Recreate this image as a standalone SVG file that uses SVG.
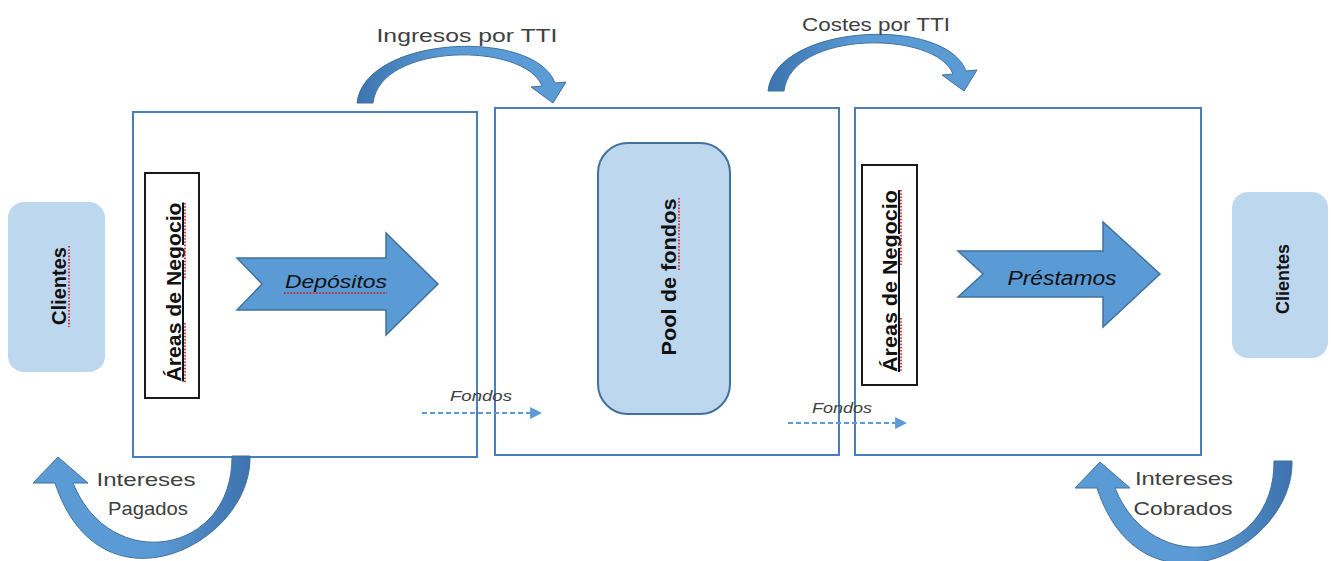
<svg xmlns="http://www.w3.org/2000/svg" width="1331" height="561" viewBox="0 0 1331 561">
  <defs>
    <style>
      .frame{fill:#fff;stroke:#4a7ebb;stroke-width:2}
      .client{fill:#bdd7ee}
      .pool{fill:#bdd7ee;stroke:#41719c;stroke-width:2}
      .area{fill:#fff;stroke:#1a1a1a;stroke-width:2}
      .block{fill:#5b9bd5;stroke:#41719c;stroke-width:1.5}
      .curve{stroke:#41719c;stroke-width:1}
      .txt{font-family:"Liberation Sans",Arial,sans-serif}
      .lbl{fill:#404040;font-size:19px}
      .vert{font-weight:bold;fill:#111;font-size:20px}
      .flow{font-style:italic;fill:#111}
      .fnd{font-size:14px;font-style:italic;fill:#404040}
      .dash{stroke:#5b9bd5;stroke-width:2.2;stroke-dasharray:5 3;fill:none}
      .spell{fill:none;stroke:#e01010;stroke-width:1.6;stroke-dasharray:1.6 1.6}
    </style>
    <linearGradient id="gArch" x1="0" y1="0" x2="1" y2="0">
      <stop offset="0" stop-color="#3c74b0"/>
      <stop offset="0.45" stop-color="#5b9bd5"/>
      <stop offset="1" stop-color="#5b9bd5"/>
    </linearGradient>
    <linearGradient id="gU" x1="0" y1="0" x2="1" y2="0">
      <stop offset="0" stop-color="#5b9bd5"/>
      <stop offset="0.55" stop-color="#5b9bd5"/>
      <stop offset="1" stop-color="#3d72ad"/>
    </linearGradient>
    <marker id="head" viewBox="0 0 10 10" refX="9" refY="5" markerWidth="5.5" markerHeight="5.5" orient="auto" markerUnits="strokeWidth">
      <path d="M0,0 L10,5 L0,10 Z" fill="#5b9bd5"/>
    </marker>
    <path id="arch" d="M357,103 C365,35 535,28 555,83 L566,82 L553,103 L531,87 L542,86 C525,42 380,42 373,103 Z"/>
    <path id="uturn" d="M250,456 C252,545 100,620 55,483 L33,483 L58,457 L88,483 L73,483 C110,575 233,555 232,456 Z"/>
  </defs>

  <rect width="1331" height="561" fill="#fff"/>

  <!-- frames -->
  <g id="frame-depositos"><rect class="frame" x="133" y="112" width="344" height="345"/></g>
  <g id="frame-pool"><rect class="frame" x="495" y="108" width="344" height="347"/></g>
  <g id="frame-prestamos"><rect class="frame" x="855" y="108" width="346" height="347"/></g>

  <!-- customers -->
  <g id="clientes-izq">
    <rect class="client" x="8" y="202" width="97" height="170" rx="16"/>
    <text class="txt vert" transform="translate(66,286) rotate(-90)" text-anchor="middle" font-size="20">Clientes</text>
    <line class="spell" x1="69" y1="246" x2="69" y2="327"/>
  </g>
  <g id="clientes-der">
    <rect class="client" x="1232" y="192" width="96" height="166" rx="16"/>
    <text class="txt vert" transform="translate(1289,279) rotate(-90)" text-anchor="middle" style="font-size:18px">Clientes</text>
  </g>

  <!-- business areas -->
  <g id="areas-izq">
    <rect class="area" x="145" y="173" width="54" height="225"/>
    <text class="txt vert" transform="translate(181,292) rotate(-90)" text-anchor="middle" textLength="179" lengthAdjust="spacingAndGlyphs" text-decoration="underline">Áreas de Negocio</text>
    <line class="spell" x1="185" y1="203" x2="185" y2="280"/>
    <line class="spell" x1="185" y1="323" x2="185" y2="382"/>
  </g>
  <g id="areas-der">
    <rect class="area" x="862" y="165" width="55" height="220"/>
    <text class="txt vert" transform="translate(897,281) rotate(-90)" text-anchor="middle" textLength="182" lengthAdjust="spacingAndGlyphs" text-decoration="underline">Áreas de Negocio</text>
    <line class="spell" x1="901" y1="190" x2="901" y2="265"/>
    <line class="spell" x1="901" y1="318" x2="901" y2="372"/>
  </g>

  <!-- funds pool -->
  <g id="pool">
    <rect class="pool" x="598" y="143" width="132" height="271" rx="30"/>
    <text class="txt vert" transform="translate(676,277) rotate(-90)" text-anchor="middle" textLength="157" lengthAdjust="spacingAndGlyphs">Pool de fondos</text>
    <line class="spell" x1="679" y1="198" x2="679" y2="270"/>
  </g>

  <!-- block arrows -->
  <g id="depositos">
    <polygon class="block" points="237,258 386,258 386,233 438,284 386,335 386,310 237,310 262,284"/>
    <text class="txt flow" x="336" y="288" font-size="18" text-anchor="middle" textLength="102" lengthAdjust="spacingAndGlyphs">Depósitos</text>
    <line class="spell" x1="284" y1="293" x2="387" y2="293"/>
  </g>
  <g id="prestamos">
    <polygon class="block" points="958,251 1103,251 1103,222 1160,274 1103,327 1103,297 958,297 983,274"/>
    <text class="txt flow" x="1062" y="285" font-size="20" text-anchor="middle" textLength="109" lengthAdjust="spacingAndGlyphs">Préstamos</text>
  </g>

  <!-- connectors -->
  <g id="connectors">
    <use href="#arch" class="curve" fill="url(#gArch)"/>
    <use href="#arch" class="curve" fill="url(#gArch)" transform="translate(411,-12)"/>
    <use href="#uturn" class="curve" fill="url(#gU)"/>
    <use href="#uturn" class="curve" fill="url(#gU)" transform="translate(1042,5)"/>
    <line class="dash" x1="422" y1="413" x2="541" y2="413" marker-end="url(#head)"/>
    <line class="dash" x1="788" y1="423" x2="906" y2="423" marker-end="url(#head)"/>
  </g>

  <!-- connector labels -->
  <g id="labels">
    <text class="txt lbl" x="467" y="42" text-anchor="middle" textLength="181" lengthAdjust="spacingAndGlyphs" font-size="20">Ingresos por TTI</text>
    <text class="txt lbl" x="876" y="31" text-anchor="middle" textLength="148" lengthAdjust="spacingAndGlyphs" font-size="20">Costes por TTI</text>
    <text class="txt lbl" x="146" y="486" text-anchor="middle" textLength="99" lengthAdjust="spacingAndGlyphs">Intereses</text>
    <text class="txt lbl" x="148" y="515" text-anchor="middle" textLength="80" lengthAdjust="spacingAndGlyphs">Pagados</text>
    <text class="txt lbl" x="1184" y="485" text-anchor="middle" textLength="98" lengthAdjust="spacingAndGlyphs">Intereses</text>
    <text class="txt lbl" x="1183" y="515" text-anchor="middle" textLength="99" lengthAdjust="spacingAndGlyphs">Cobrados</text>
    <text class="txt fnd" x="481" y="401" text-anchor="middle" textLength="62" lengthAdjust="spacingAndGlyphs">Fondos</text>
    <text class="txt fnd" x="842" y="413" text-anchor="middle" textLength="60" lengthAdjust="spacingAndGlyphs">Fondos</text>
  </g>
</svg>
